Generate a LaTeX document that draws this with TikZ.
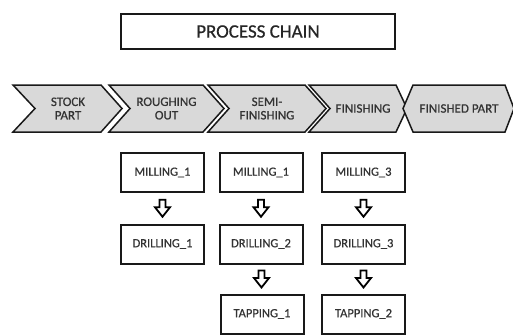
\documentclass[tikz,border=0pt]{standalone}
\usepackage{fontspec}
\setmainfont{Carlito}[BoldFont=Carlito, BoldFeatures={FakeBold=0.6}]
\usetikzlibrary{calc}
\begin{document}
\begin{tikzpicture}[x=1pt,y=-1pt,
  chev/.style={draw=black!90, line width=1.5pt, fill=black!15, line join=miter},
  chevtext/.style={font=\fontsize{13}{13.5}\selectfont\bfseries, align=center, text=black!80, inner sep=0pt},
  opbox/.style={draw=black!90, line width=2pt, fill=white, minimum width=83pt, minimum height=39pt, font=\fontsize{12.5}{14}\selectfont\bfseries, text=black!80, inner sep=0pt},
  titlebox/.style={draw=black!90, line width=2pt, fill=white, minimum width=274pt, minimum height=35pt, font=\fontsize{19}{20}\selectfont\bfseries, text=black!85, inner sep=0pt},
  pics/darrow/.style={code={\draw[line width=1.8pt, fill=white, line join=miter] (-3,-8.5) -- (3,-8.5) -- (3,-1) -- (7.5,-1) -- (0,8.5) -- (-7.5,-1) -- (-3,-1) -- cycle;}}
]
\useasboundingbox (0,0) rectangle (513,335);

\node[titlebox] (title) at (258,31.5) {PROCESS CHAIN};

% chevron row
\draw[chev] (13,85) -- (101,85) -- (122,108.5) -- (101,132) -- (13,132) -- (35,108.5) -- cycle;
\draw[chev] (109,85) -- (203,85) -- (224,108.5) -- (203,132) -- (109,132) -- (130,108.5) -- cycle;
\draw[chev] (208,85) -- (305,85) -- (326,108.5) -- (305,132) -- (208,132) -- (229,108.5) -- cycle;
\draw[chev] (309,85) -- (396,85) -- (407,108.5) -- (396,132) -- (309,132) -- (330,108.5) -- cycle;
\draw[chev] (413,85) -- (505,85) -- (514,108.5) -- (505,132) -- (413,132) -- (403,108.5) -- cycle;

\node[chevtext] (c1) at (68,108.5) {STOCK\\PART};
\node[chevtext] (c2) at (166.5,108.5) {ROUGHING\\OUT};
\node[chevtext] (c3) at (267,108.5) {SEMI-\\FINISHING};
\node[chevtext] (c4) at (363,108.5) {FINISHING};
\node[chevtext] (c5) at (459,108.5) {FINISHED PART};

% operation boxes
\node[opbox] (m1) at (162.5,172.5) {MILLING\_1};
\node[opbox] (m2) at (261,172.5) {MILLING\_1};
\node[opbox] (m3) at (363.5,172.5) {MILLING\_3};
\node[opbox] (d1) at (162.5,244) {DRILLING\_1};
\node[opbox] (d2) at (261,244) {DRILLING\_2};
\node[opbox] (d3) at (363.5,244) {DRILLING\_3};
\node[opbox] (t1) at (262,314) {TAPPING\_1};
\node[opbox] (t2) at (363.5,314) {TAPPING\_2};

% block arrows
\pic at ($(m1.south)!0.5!(d1.north)$) {darrow};
\pic at ($(m2.south)!0.5!(d2.north)$) {darrow};
\pic at ($(m3.south)!0.5!(d3.north)$) {darrow};
\pic at ($(d2.south)!0.5!(t1.north)$) {darrow};
\pic at ($(d3.south)!0.5!(t2.north)$) {darrow};
\end{tikzpicture}
\end{document}
